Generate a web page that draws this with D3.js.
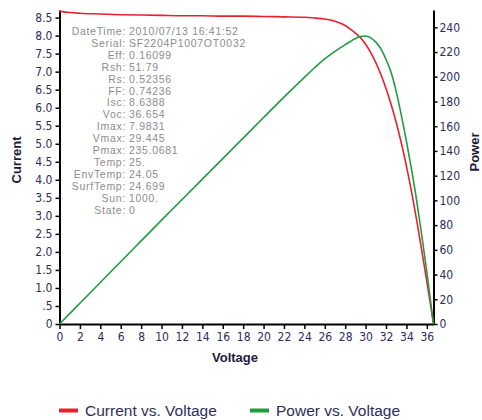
<!DOCTYPE html>
<html>
<head>
<meta charset="utf-8">
<script src="https://cdn.jsdelivr.net/npm/d3@7"></script>
<style>
  body { margin: 0; background: #fff; }
  svg text { font-family: "Liberation Sans", Arial, sans-serif; }
</style>
</head>
<body>
<div id="chart"></div>
<script>
/* ---- datos ---- */
const voltage = [0, 1, 2, 4, 6, 8, 10, 12, 14, 16, 18, 20, 22, 24, 25, 26, 27, 28, 28.5, 29, 29.5,
                 30, 30.5, 31, 31.5, 32, 32.5, 33, 33.5, 34, 34.5, 35, 35.5, 36, 36.654];
const current = [8.68, 8.64, 8.62, 8.60, 8.58, 8.57, 8.56, 8.55, 8.55, 8.54, 8.54, 8.53, 8.52, 8.51, 8.49,
                 8.46, 8.40, 8.28, 8.18, 8.07, 7.94, 7.76, 7.53, 7.25, 6.92, 6.53, 6.09, 5.59, 5.02,
                 4.38, 3.67, 2.89, 2.04, 1.18, 0];
const power = [0, 8.4, 16.8, 33.6, 50.4, 67.2, 84, 100.6, 117.2, 133.8, 150.4, 167, 183.5, 199.5, 207.3,
               214.5, 220.5, 226, 228.5, 231, 232.5, 233, 231.5, 228, 222.5, 214, 203.5, 188, 169,
               148, 125, 100, 72, 42, 0];

const xTicks = d3.range(0, 37, 2);
const yTicks = d3.range(0, 8.51, 0.5);
const pTicks = d3.range(0, 241, 20);

const infoLabels = ["DateTime:", "Serial:", "Eff:", "Rsh:", "Rs:", "FF:", "Isc:", "Voc:", "Imax:",
                    "Vmax:", "Pmax:", "Temp:", "EnvTemp:", "SurfTemp:", "Sun:", "State:"];
const infoValues = ["2010/07/13 16:41:52", "SF2204P1007OT0032", "0.16099", "51.79", "0.52356",
                    "0.74236", "8.6388", "36.654", "7.9831", "29.445", "235.0681", "25.", "24.05",
                    "24.699", "1000.", "0"];

const series = [
  { name: "Current vs. Voltage", values: current, color: "#e8212e", axis: "left" },
  { name: "Power vs. Voltage", values: power, color: "#1f9c3f", axis: "right" }
];

/* ---- montaje ---- */
const width = 482, height = 420;
const svg = d3.select("#chart").append("svg")
  .attr("width", width)
  .attr("height", height);

const x = d3.scaleLinear().domain([0, 36.654]).range([59.5, 433.5]);
const y = d3.scaleLinear().domain([0, 8.71]).range([324, 10]);
const yP = d3.scaleLinear().domain([0, 254]).range([324, 10]);

const tickColor = "#2d2d5c";

function styleAxis(g) {
  g.select(".domain").attr("stroke", "#000").attr("stroke-width", 2);
  g.selectAll(".tick line").attr("stroke", "#000").attr("stroke-width", 1.5);
  g.selectAll(".tick text")
    .attr("fill", tickColor)
    .style("font-size", "12px")
    .style("font-family", "'Liberation Sans Narrow', 'DejaVu Sans Condensed', Arial, sans-serif");
}

// eje inferior
svg.append("g")
  .attr("transform", "translate(0,324)")
  .call(d3.axisBottom(x).tickValues(xTicks).tickSize(5).tickSizeOuter(0).tickPadding(3))
  .call(styleAxis);

// eje izquierdo
svg.append("g")
  .attr("transform", "translate(59.5,0)")
  .call(d3.axisLeft(y).tickValues(yTicks).tickSize(4).tickSizeOuter(0).tickPadding(3)
    .tickFormat(d => d === 0 ? "0" : d === 0.5 ? ".5" : d.toFixed(1)))
  .call(styleAxis);

// eje derecho
svg.append("g")
  .attr("transform", "translate(433.5,0)")
  .call(d3.axisRight(yP).tickValues(pTicks).tickSize(4).tickSizeOuter(0).tickPadding(2))
  .call(styleAxis);

// curvas
series.forEach(s => {
  const sc = s.axis === "left" ? y : yP;
  const line = d3.line()
    .x((d, i) => x(voltage[i]))
    .y(d => sc(d))
    .curve(d3.curveMonotoneX);
  svg.append("path")
    .datum(s.values)
    .attr("fill", "none")
    .attr("stroke", s.color)
    .attr("stroke-width", 1.6)
    .attr("d", line);
});

// bloque de info
const info = svg.append("g")
  .style("font-family", "'DejaVu Sans', sans-serif")
  .style("font-size", "10.5px")
  .style("letter-spacing", "0.7px")
  .attr("fill", "#8c8c8c");
infoLabels.forEach((lab, i) => {
  const ty = 35 + i * 11.9;
  info.append("text").attr("x", 126).attr("y", ty).attr("text-anchor", "end").text(lab);
  info.append("text").attr("x", 129).attr("y", ty).text(infoValues[i]);
});

// titulos
const titleStyle = t => t.attr("fill", "#1b1b3a").style("font-size", "13px").style("font-weight", "bold");
svg.append("text")
  .attr("transform", "translate(21,160) rotate(-90)")
  .attr("text-anchor", "middle")
  .text("Current").call(titleStyle);
svg.append("text")
  .attr("transform", "translate(479,152) rotate(-90)")
  .attr("text-anchor", "middle")
  .text("Power").call(titleStyle);
svg.append("text")
  .attr("x", 235).attr("y", 362)
  .attr("text-anchor", "middle")
  .text("Voltage").call(titleStyle);

// leyenda
const legend = svg.append("g");
series.forEach((s, i) => {
  const lx = 59 + i * 191;
  legend.append("rect")
    .attr("x", lx).attr("y", 408.5)
    .attr("width", 19).attr("height", 4)
    .attr("fill", s.color);
  legend.append("text")
    .attr("x", lx + 26).attr("y", 415.5)
    .attr("fill", "#2d2d5c")
    .style("font-size", "15.5px")
    .text(s.name);
});
</script>
</body>
</html>
